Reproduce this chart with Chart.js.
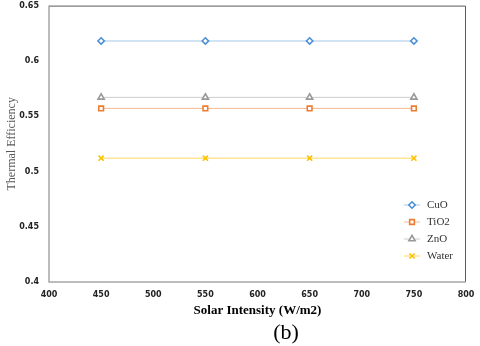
<!DOCTYPE html>
<html><head><meta charset="utf-8">
<script src="https://cdn.jsdelivr.net/npm/chart.js@4/dist/chart.umd.min.js"></script>
<style>html,body{margin:0;padding:0;background:#fff}canvas{display:block}</style>
</head><body>
<canvas id="c" width="480" height="346"></canvas>
<script>
const intensities = [450, 550, 650, 750];
const cuo = [0.618, 0.618, 0.618, 0.618];
const tio2 = [0.557, 0.557, 0.557, 0.557];
const zno = [0.567, 0.567, 0.567, 0.567];
const water = [0.512, 0.512, 0.512, 0.512];
const seriesNames = ['CuO', 'TiO2', 'ZnO', 'Water'];
const xTicks = [400, 450, 500, 550, 600, 650, 700, 750, 800];
const yTicks = [0.4, 0.45, 0.5, 0.55, 0.6, 0.65];

function pts(vals){ return intensities.map((x,i)=>({x:x,y:vals[i]})); }
function ds(label, vals, color, line, style, rad){
  return {label:label, data:pts(vals), borderColor:line, backgroundColor:'#fff',
    pointBorderColor:color, pointBackgroundColor:'#fff', pointStyle:style,
    pointRadius:rad, pointBorderWidth:1.6, borderWidth:1, showLine:true, tension:0, fill:false};
}
const frame = {id:'frame', afterDatasetsDraw(chart){
  const {ctx, chartArea:a} = chart;
  ctx.save();
  ctx.strokeStyle='#595959'; ctx.lineWidth=1;
  ctx.beginPath(); ctx.moveTo(a.left,a.top+0.5); ctx.lineTo(a.right-0.5,a.top+0.5); ctx.lineTo(a.right-0.5,a.bottom); ctx.stroke();
  ctx.strokeStyle='#a6a6a6'; ctx.lineWidth=1.5;
  ctx.beginPath(); ctx.moveTo(a.left,a.top); ctx.lineTo(a.left,a.bottom); ctx.lineTo(a.right,a.bottom); ctx.stroke();
  ctx.restore();
}};
const legendIn = {id:'legendIn', afterDatasetsDraw(chart){
  const ctx = chart.ctx; const a = chart.chartArea;
  const x0 = a.right - 62, y0 = 205, gap = 17;
  chart.data.datasets.forEach((d,i)=>{
    const y = y0 + i*gap;
    ctx.save();
    ctx.strokeStyle = d.borderColor; ctx.lineWidth = 1;
    ctx.beginPath(); ctx.moveTo(x0, y); ctx.lineTo(x0+16, y); ctx.stroke();
    ctx.strokeStyle = d.pointBorderColor; ctx.fillStyle='#fff'; ctx.lineWidth = 1.6;
    Chart.helpers.drawPoint(ctx, {pointStyle:d.pointStyle, radius:d.pointRadius, borderWidth:1.6}, x0+8, y);
    ctx.fillStyle='#333'; ctx.font='11px "Liberation Serif"'; ctx.textBaseline='middle';
    ctx.fillText(d.label, x0+23, y+0.5);
    ctx.restore();
  });
}};
const caption = {id:'caption', afterDraw(chart){
  const ctx = chart.ctx;
  ctx.save();
  ctx.fillStyle='#000'; ctx.font='22px "Liberation Serif"'; ctx.textAlign='center'; ctx.textBaseline='middle';
  ctx.fillText('(b)', 286, 333);
  ctx.restore();
}};
new Chart(document.getElementById('c'), {
  type:'scatter',
  data:{datasets:[
    ds(seriesNames[0], cuo, '#4a8fd8', '#a9c8ec', 'rectRot', 3.2),
    ds(seriesNames[1], tio2, '#ed7d31', '#f4b894', 'rect', 3.3),
    ds(seriesNames[2], zno, '#999999', '#cccccc', 'triangle', 3.6),
    ds(seriesNames[3], water, '#ffc000', '#ffd862', 'crossRot', 3.6)
  ]},
  options:{
    responsive:false, animation:false,
    layout:{padding:{top:4, right:14, left:0, bottom:28}},
    plugins:{ legend:{display:false}, tooltip:{enabled:false}, title:{display:false} },
    scales:{
      x:{type:'linear', min:400, max:800,
        afterBuildTicks(s){ s.ticks = xTicks.map(v=>({value:v})); },
        afterFit(s){ s.height = 36; s.paddingLeft = 0; s.paddingRight = 0; },
        grid:{display:false, drawTicks:false}, border:{display:false},
        ticks:{color:'#222', font:{family:'"DejaVu Sans"', size:8, weight:'bold'}, padding:8, maxRotation:0},
        title:{display:true, text:'Solar Intensity (W/m2)', color:'#000', padding:{top:0,bottom:0},
          font:{family:'"Liberation Serif"', size:13, weight:'bold'}}
      },
      y:{min:0.4, max:0.65,
        afterBuildTicks(s){ s.ticks = yTicks.map(v=>({value:v})); },
        afterFit(s){ s.width = 49; s.paddingTop = 0; s.paddingBottom = 0; },
        grid:{display:false, drawTicks:false}, border:{display:false},
        ticks:{color:'#222', font:{family:'"DejaVu Sans"', size:8, weight:'bold'}, padding:10,
          callback:v=>String(Number(v.toFixed(2)))},
        title:{display:true, text:'Thermal Efficiency', color:'#595959', padding:{top:5,bottom:0},
          font:{family:'"Liberation Serif"', size:12, weight:'normal'}}
      }
    }
  },
  plugins:[frame, legendIn, caption]
});
</script>
</body></html>
